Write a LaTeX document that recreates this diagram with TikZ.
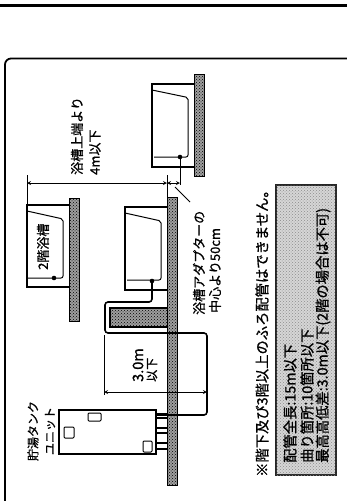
\documentclass[tikz,border=0pt]{standalone}
\usepackage{fontspec}
\usepackage{tikz}
\usetikzlibrary{patterns}
\newfontfamily\cjk[FakeBold=1]{Noto Sans CJK JP}
\definecolor{wallgray}{gray}{0.62}
\definecolor{notegray}{gray}{0.84}
\tikzset{
  wall/.style={draw=black, line width=0.7pt, fill=wallgray, postaction={pattern=crosshatch dots, pattern color=black}},
  tub/.style={draw=black, line width=1.6pt},
  waterline/.style={draw=black, line width=1pt, rounded corners=2pt},
  pipe/.style={draw=black, line width=1.6pt, rounded corners=3pt},
  dimline/.style={<->, >=stealth, line width=0.8pt},
  extline/.style={line width=0.8pt},
  lbl/.style={font=\cjk\fontsize{13}{13}\selectfont, text=black, rotate=90, anchor=west, inner sep=0pt},
  small lbl/.style={lbl, font=\cjk\fontsize{12}{12}\selectfont},
  note/.style={lbl, font=\cjk\fontsize{14.3}{14}\selectfont}
}
\begin{document}
\begin{tikzpicture}[x=1pt, y=-1pt]
  \useasboundingbox (0,0) rectangle (347,501);
  % page rule and frame
  \draw[line width=2.6pt] (0,5.5) -- (347,5.5);
  \draw[line width=1.8pt, rounded corners=6pt] (5,501) -- (5,58.5) -- (347,58.5);
  % walls
  \path[wall] (194,74) rectangle (204,176);
  \path[wall] (69,198) rectangle (79,321);
  \path[wall] (167,197) rectangle (177,485);
  \path[wall, line width=1.2pt] (167,308) -- (110,308) -- (110,327) -- (167,327);
  % upper tub
  \draw[tub] (194,84) -- (152,84) -- (152,167) -- (194,167);
  \draw[waterline] (152,90) -- (188,97.5) -- (188,157) -- (154,157);
  \coordinate (upperport) at (180,157);
  \fill (upperport) circle (2.3pt);
  % 2nd floor tub
  \draw[tub] (69,205) -- (27,205) -- (27,287) -- (69,287);
  \draw[waterline] (27,211) -- (63,219) -- (63,278) -- (27,278);
  \fill (54,278) circle (2.3pt);
  % middle tub
  \draw[tub] (167,207) -- (125,207) -- (125,290) -- (167,290);
  \draw[waterline] (125,213) -- (161,221) -- (161,280) -- (127,280);
  \coordinate (midport) at (152,281);
  \fill (midport) circle (2.3pt);
  % tank
  \draw[line width=1.5pt, fill=white] (59,410) rectangle (156,454);
  \draw[line width=1pt, rounded corners=1pt] (88,413) rectangle (101,421);
  \draw[line width=1pt, rounded corners=1pt] (64,427) rectangle (74,438);
  \draw[line width=1pt, rounded corners=1pt] (143,441) rectangle (152,452);
  \foreach \py in {414,418,428,433,443,449}
    \draw[line width=1.2pt] (156,\py) -- (167,\py);
  % pipe run
  \coordinate (tankport) at (157,415);
  \draw[pipe] (midport) -- (152,302) -- (105,302) -- (105,333) -- (207,333) -- (207,415) -- (tankport);
  % dimensions
  \coordinate (d1) at (27,183);
  \coordinate (d2) at (167,183);
  \coordinate (d3) at (180,183);
  \coordinate (d4) at (104,392);
  \coordinate (d5) at (207,392);
  \draw[extline] (27,175) -- (27,205);
  \draw[extline] (167,175) -- (167,197);
  \draw[extline] (upperport) -- (180,185);
  \draw[dimline] (d1) -- (d2);
  \draw[dimline] (d2) -- (d3);
  \draw[extline] (175,187) -- (190,202);
  \draw[extline] (104,335) -- (104,395);
  \draw[dimline] (d4) -- (d5);
  % note box
  \draw[line width=1.2pt, draw=black!85, fill=notegray, postaction={pattern=crosshatch dots, pattern color=black!45}] (276,185) rectangle (336,475);
  % labels
  \node[lbl] (toplabel) at (77,175) {浴槽上端より};
  \node[lbl] (toplimit) at (95,175) {4m以下};
  \node[lbl] (upstairs) at (43,270) {2階浴槽};
  \node[small lbl, anchor=center] (tankname) at (33,431) {貯湯タンク};
  \node[small lbl, anchor=center] (tankunit) at (50,431) {ユニット};
  \node[lbl, font=\cjk\fontsize{14.5}{14}\selectfont] (rise) at (138,382) {3.0m};
  \node[small lbl] (riselimit) at (152,382) {以下};
  \node[lbl] (adapter) at (199,315) {浴槽アダプターの};
  \node[lbl] (center) at (215,313) {中心より50cm};
  \node[note] (warning) at (262,477) {※階下及び3階以上のふろ配管はできません。};
  \node[note] (length) at (290,463) {配管全長:15m以下};
  \node[note] (bends) at (307,463) {曲り箇所:10箇所以下};
  \node[note] (height) at (323,463) {最高高低差:3.0m以下(2階の場合は不可)};
\end{tikzpicture}
\end{document}
